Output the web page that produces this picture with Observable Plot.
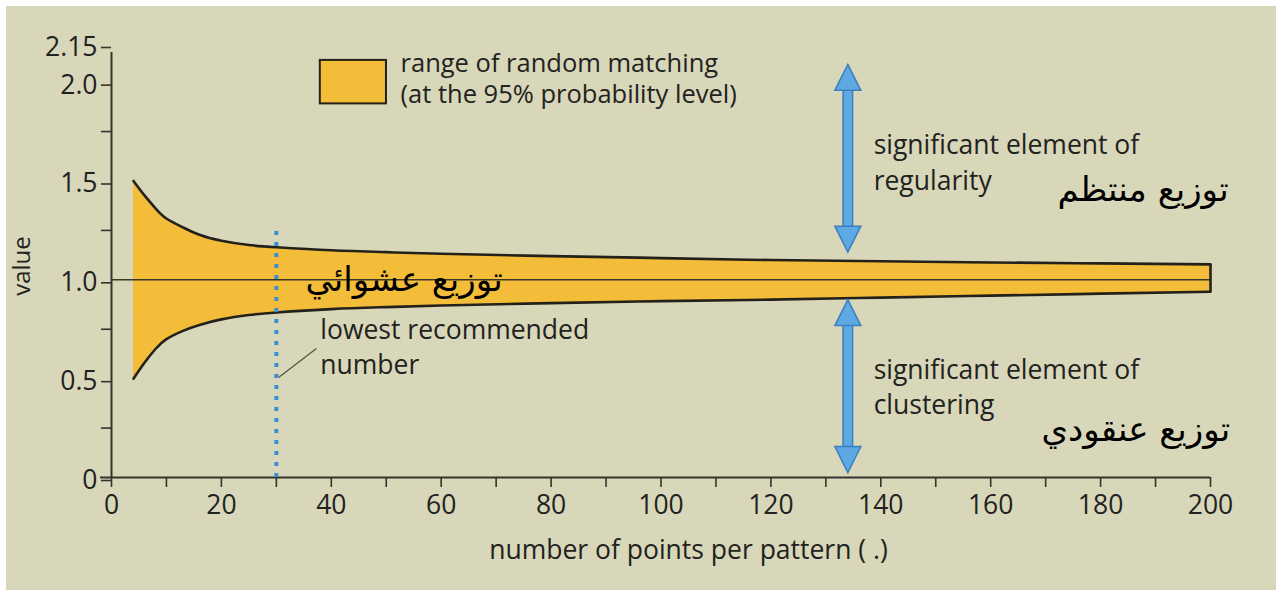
<!DOCTYPE html>
<html>
<head>
<meta charset="utf-8">
<script src="https://cdn.jsdelivr.net/npm/d3@7"></script>
<script src="https://cdn.jsdelivr.net/npm/@observablehq/plot@0.6"></script>
<style>
  html, body { margin: 0; padding: 0; background: #ffffff; }
  #wrap { position: relative; width: 1281px; height: 593px; background: #ffffff; overflow: hidden; }
  #bg { position: absolute; left: 6px; top: 6px; right: 5px; bottom: 3px; background: #d8d7b9; }
  #chart { position: absolute; left: 0; top: 0; }
  #chart svg { background: transparent !important; }
</style>
</head>
<body>
<div id="wrap"><div id="bg"></div><div id="chart"></div></div>
<script>
// Band: range of random matching (95% level)
const nPoints = [4, 6, 8, 10, 13, 16, 20, 25, 30, 40, 50, 60, 80, 100, 120, 140, 160, 180, 200];
const upperBound = [1.50, 1.427, 1.362, 1.31, 1.265, 1.228, 1.198, 1.176, 1.165, 1.15, 1.14, 1.132, 1.12, 1.11, 1.10, 1.094, 1.088, 1.083, 1.078];
const lowerBound = [0.50, 0.58, 0.65, 0.70, 0.742, 0.772, 0.80, 0.822, 0.835, 0.852, 0.862, 0.87, 0.882, 0.892, 0.90, 0.91, 0.92, 0.93, 0.94];

const xMajorTicks = [0, 20, 40, 60, 80, 100, 120, 140, 160, 180, 200];
const xMinorTicks = [10, 30, 50, 70, 90, 110, 130, 150, 170, 190];
const yMajorTicks = [0, 0.5, 1.0, 1.5, 2.0];
const yMajorLabels = ["0", "0.5", "1.0", "1.5", "2.0"];
const yTopTick = [2.15];
const yTopLabel = "2.15";
const yMinorTicks = [0.25, 0.75, 1.25, 1.75];

const lowestRecommended = 30;
const arrowX = 134;
const arrowRegularity = {top: 2.09, bottom: 1.14};
const arrowClustering = {top: 0.90, bottom: 0.025};

const band = nPoints.map((x, i) => ({x, upper: upperBound[i], lower: lowerBound[i]}));
const last = band[band.length - 1];

const bandFill = "#f3bd3a";
const edge = "#23211a";
const textColor = "#222220";
const axisColor = "#34342e";
const arrowFill = "#5ea9e2";
const arrowStroke = "#3a7fbf";

const arrowUp = { draw(ctx) { ctx.moveTo(0, 0); ctx.lineTo(13, 26); ctx.lineTo(-13, 26); ctx.closePath(); } };
const arrowDown = { draw(ctx) { ctx.moveTo(0, 0); ctx.lineTo(13, -26); ctx.lineTo(-13, -26); ctx.closePath(); } };

const arrows = [arrowRegularity, arrowClustering];
const upHeads = arrows.map(a => ({y: a.top}));
const downHeads = arrows.map(a => ({y: a.bottom}));

const font = "'Open Sans', 'Noto Sans', sans-serif";
const arabicFont = "'DejaVu Sans', sans-serif";
const fs = 26.5;
const fw = 500;
const curve = "natural";

const chart = Plot.plot({
  width: 1281,
  height: 593,
  marginLeft: 111,
  marginRight: 71,
  marginTop: 52,
  marginBottom: 116,
  style: {fontFamily: font, fontSize: fs + "px", fontWeight: fw, color: textColor, background: "transparent", overflow: "visible"},
  x: {domain: [0, 200]},
  y: {domain: [0, 2.15]},
  marks: [
    // legend swatch
    Plot.rect([0], {x1: 38, x2: 50.04, y1: 1.89, y2: 2.11, fill: bandFill, stroke: edge, strokeWidth: 2}),
    Plot.text(["range of random matching"], {x: 52.6, y: 2.093, text: d => d, textAnchor: "start", lineAnchor: "middle", fontSize: 25.5, fontWeight: fw, fill: textColor}),
    Plot.text(["(at the 95% probability level)"], {x: 52.6, y: 1.937, text: d => d, textAnchor: "start", lineAnchor: "middle", fontSize: 25.5, fontWeight: fw, fill: textColor}),
    // band
    Plot.areaY(band, {x: "x", y1: "lower", y2: "upper", fill: bandFill, curve}),
    Plot.ruleY([1], {x1: 0, x2: 200, stroke: "#3b3926", strokeWidth: 1.5}),
    Plot.line(band, {x: "x", y: "upper", stroke: edge, strokeWidth: 2.6, curve}),
    Plot.line(band, {x: "x", y: "lower", stroke: edge, strokeWidth: 2.6, curve}),
    Plot.ruleX([last], {x: "x", y1: "lower", y2: "upper", stroke: edge, strokeWidth: 2.6}),
    // axes lines
    Plot.ruleY([0], {x1: -2, x2: 200, stroke: axisColor, strokeWidth: 2}),
    Plot.ruleX([0], {y1: 0, y2: 2.15, stroke: axisColor, strokeWidth: 2}),
    Plot.axisX({ticks: xMajorTicks, tickSize: 10, tickPadding: 8, fontSize: fs, fontWeight: fw, label: null, stroke: axisColor, strokeWidth: 1.6, fill: textColor}),
    Plot.axisX({ticks: xMinorTicks, tickSize: 10, tickFormat: () => "", label: null, stroke: axisColor, strokeWidth: 1.6}),
    Plot.axisY({ticks: yMajorTicks, tickSize: 10, tickPadding: 4, fontSize: fs, fontWeight: fw, label: null, stroke: axisColor, strokeWidth: 1.6, fill: textColor,
      tickFormat: d => yMajorLabels[yMajorTicks.indexOf(d)], dy: 3}),
    Plot.axisY({ticks: yTopTick, tickSize: 10, tickPadding: 4, fontSize: fs, fontWeight: fw, label: null, stroke: axisColor, strokeWidth: 1.6, fill: textColor,
      tickFormat: () => yTopLabel, dy: -5}),
    Plot.axisY({ticks: yMinorTicks, tickSize: 10, tickFormat: () => "", label: null, stroke: axisColor, strokeWidth: 1.6}),
    // lowest recommended number
    Plot.ruleX([lowestRecommended], {y1: 0, y2: 1.25, stroke: "#3a8ed6", strokeWidth: 4, strokeDasharray: "4,7"}),
    Plot.link([0], {x1: 30.4, y1: 0.506, x2: 37.3, y2: 0.653, stroke: "#555548", strokeWidth: 1.3}),
    Plot.text(["lowest recommended\nnumber"], {x: 38.0, y: 0.668, text: d => d, textAnchor: "start", lineAnchor: "middle", lineHeight: 1.3, fontSize: fs, fontWeight: fw, fill: textColor}),
    // arrows
    Plot.ruleX(arrows, {x: arrowX, y1: d => d.bottom + 0.11, y2: d => d.top - 0.11, stroke: arrowStroke, strokeWidth: 11}),
    Plot.ruleX(arrows, {x: arrowX, y1: d => d.bottom + 0.105, y2: d => d.top - 0.105, stroke: arrowFill, strokeWidth: 8}),
    Plot.dot(upHeads, {x: arrowX, y: "y", symbol: arrowUp, fill: arrowFill, stroke: arrowStroke, strokeWidth: 1.5}),
    Plot.dot(downHeads, {x: arrowX, y: "y", symbol: arrowDown, fill: arrowFill, stroke: arrowStroke, strokeWidth: 1.5}),
    Plot.text(["significant element of\nregularity"], {x: 138.7, y: 1.604, text: d => d, textAnchor: "start", lineAnchor: "middle", lineHeight: 1.36, fontSize: fs, fontWeight: fw, fill: textColor}),
    Plot.text(["significant element of\nclustering"], {x: 138.7, y: 0.465, text: d => d, textAnchor: "start", lineAnchor: "middle", lineHeight: 1.3, fontSize: fs, fontWeight: fw, fill: textColor}),
    // Arabic labels
    Plot.text(["توزيع منتظم"], {x: 203.3, y: 1.452, text: d => d, textAnchor: "end", lineAnchor: "middle", fontSize: 34, fontWeight: "normal", fontFamily: arabicFont, fill: "#000"}),
    Plot.text(["توزيع عنقودي"], {x: 203.6, y: 0.238, text: d => d, textAnchor: "end", lineAnchor: "middle", fontSize: 34, fontWeight: "normal", fontFamily: arabicFont, fill: "#000"}),
    Plot.text(["توزيع عشوائي"], {x: 71.2, y: 1.0, text: d => d, textAnchor: "end", lineAnchor: "middle", fontSize: 34, fontWeight: "normal", fontFamily: arabicFont, fill: "#000"}),
    // axis titles
    Plot.text(["number of points per pattern ( .)"], {x: 105, y: -0.369, text: d => d, textAnchor: "middle", lineAnchor: "middle", fontSize: fs, fontWeight: fw, fill: textColor}),
    Plot.text(["value"], {x: -16.2, y: 1.07, text: d => d, rotate: -90, textAnchor: "middle", lineAnchor: "middle", fontSize: 24, fontWeight: fw, fill: textColor})
  ]
});
document.getElementById("chart").appendChild(chart);
</script>
</body>
</html>
